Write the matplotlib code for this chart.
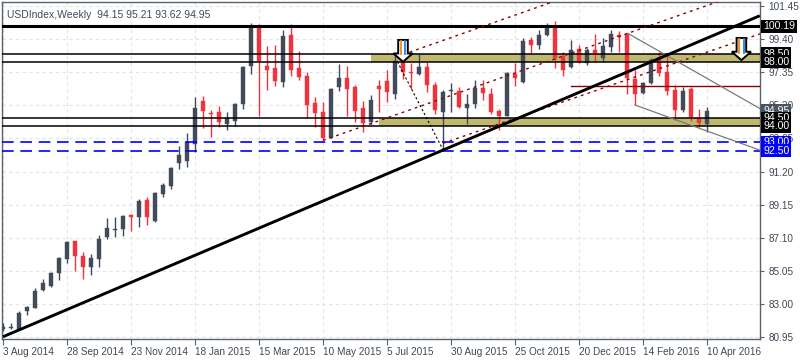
import matplotlib
matplotlib.use('Agg')
import matplotlib.pyplot as plt
from matplotlib.transforms import blended_transform_factory
from matplotlib.patches import Polygon, Rectangle

# ---------------- data ----------------
opens = [81.45, 81.50, 81.45, 82.57, 82.77, 83.88, 84.13, 84.94, 85.80, 86.90,
         85.95, 85.31, 85.80, 87.15, 87.60, 87.66, 88.53, 88.37, 89.44, 88.15,
         89.81, 90.32, 91.75, 91.87, 92.92, 95.57, 94.80, 94.89, 94.16, 94.35,
         95.36, 97.75, 100.19, 97.73, 97.61, 96.76, 99.65, 97.61, 97.12, 95.44,
         94.89, 93.30, 96.45, 96.99, 96.45, 95.12, 94.27, 96.52, 96.81, 96.02,
         98.00, 97.36, 97.24, 97.69, 96.56, 94.87, 96.17, 96.19, 95.12, 95.40,
         96.37, 96.00, 94.97, 94.66, 97.24, 96.76, 99.34, 99.04, 99.65, 100.15,
         98.35, 97.69, 98.79, 97.90, 98.75, 98.25, 98.91, 99.65, 99.73, 96.93,
         96.06, 96.68, 98.15, 97.36, 96.25, 95.01, 96.31, 94.53, 94.15]
highs = [81.84, 81.84, 82.57, 82.85, 83.99, 84.55, 84.98, 85.89, 86.92, 86.92,
         86.22, 86.09, 87.25, 88.32, 88.38, 88.53, 88.57, 89.48, 89.64, 89.93,
         90.47, 91.50, 92.78, 93.59, 95.83, 95.88, 95.01, 95.28, 94.87, 95.44,
         97.75, 100.40, 100.34, 98.99, 99.04, 99.98, 100.32, 98.66, 97.34, 95.80,
         95.49, 96.39, 97.86, 97.73, 96.58, 95.57, 95.94, 96.85, 97.49, 98.46,
         98.45, 97.94, 98.46, 98.00, 96.76, 96.23, 96.70, 96.45, 96.00, 96.87,
         96.87, 96.35, 95.09, 97.38, 97.90, 99.49, 99.53, 99.96, 100.38, 100.52,
         98.62, 99.34, 99.04, 98.83, 99.70, 99.45, 99.96, 99.90, 99.75, 97.49,
         96.76, 98.25, 98.62, 98.42, 96.56, 96.42, 96.45, 95.07, 95.21]
lows = [81.35, 81.43, 81.40, 82.32, 82.73, 83.82, 84.05, 84.46, 85.56, 85.02,
        84.57, 84.81, 85.27, 87.00, 87.17, 87.21, 87.54, 87.78, 87.91, 88.10,
        89.60, 90.10, 91.36, 91.50, 92.39, 93.91, 93.36, 93.98, 93.79, 94.04,
        95.05, 97.26, 94.66, 96.27, 96.50, 96.45, 97.12, 96.87, 94.50, 93.98,
        93.13, 93.26, 96.19, 94.66, 94.29, 93.67, 94.08, 94.91, 95.52, 95.70,
        96.93, 96.30, 97.15, 96.11, 94.74, 92.47, 94.91, 95.12, 94.16, 95.15,
        95.63, 94.74, 93.75, 94.62, 96.52, 96.70, 98.52, 98.79, 99.60, 97.59,
        97.12, 97.59, 97.90, 97.80, 98.06, 98.00, 98.62, 98.62, 96.00, 95.32,
        96.00, 96.62, 97.12, 95.94, 94.39, 94.91, 94.33, 93.94, 93.62]
closes = [81.55, 81.52, 82.44, 82.81, 83.80, 84.30, 84.92, 85.85, 86.84, 85.99,
          85.31, 85.85, 87.00, 87.70, 87.64, 88.45, 88.40, 89.39, 88.37, 89.89,
          90.37, 91.40, 92.22, 93.03, 95.12, 94.97, 94.76, 94.25, 94.50, 95.40,
          97.67, 100.19, 98.04, 97.51, 96.83, 99.59, 97.51, 97.07, 95.34, 94.84,
          93.26, 96.31, 96.99, 96.33, 94.97, 94.22, 95.63, 96.33, 96.14, 98.04,
          97.38, 97.32, 97.69, 96.56, 95.01, 96.14, 96.21, 95.18, 95.38, 96.37,
          96.08, 94.91, 94.66, 97.28, 97.01, 99.28, 99.04, 99.65, 100.07, 98.25,
          97.51, 98.73, 98.00, 98.73, 98.52, 98.95, 99.70, 99.53, 97.01, 96.00,
          96.66, 98.13, 97.32, 96.19, 95.01, 96.19, 94.56, 94.22, 94.95]

date_labels = ['3 Aug 2014', '28 Sep 2014', '23 Nov 2014', '18 Jan 2015',
               '15 Mar 2015', '10 May 2015', '5 Jul 2015', '30 Aug 2015',
               '25 Oct 2015', '20 Dec 2015', '14 Feb 2016', '10 Apr 2016']
price_ticks = [80.95, 83.00, 85.05, 87.10, 89.15, 91.20, 93.25, 95.30,
               97.35, 99.40, 101.45]

title_text = 'USDIndex,Weekly  94.15 95.21 93.62 94.95'
black_levels = [100.19, 98.50, 98.00, 94.50, 94.00]
black_widths = [2.2, 1.1, 1.1, 1.1, 1.1]
blue_levels = [93.00, 92.50]
last_price = 94.95

# zones: (start bar, low, high)
zone_start = [46, 47]
zone_low = [98.00, 94.00]
zone_high = [98.50, 94.50]

# long black trendline (bar, price) points
trend_x = [0, 94.6]
trend_y = [80.97, 100.85]

# maroon dotted channel lines: start bar, start price, slope per bar
chan_start = [40, 50, 55]
chan_price = [93.13, 98.45, 92.95]
chan_slope = [0.174, 0.174, 0.171]

# thin dashed projection line
proj_x = [49.3, 55.0]
proj_y = [98.0, 92.55]

# gray descending lines
gray_x0 = [78.1, 79.0]
gray_y0 = [99.76, 95.32]
gray_slope = [-0.282, -0.179]

# maroon horizontal line
red_level = 96.50
red_start = 71

# arrow objects: center bar, top price, tip price
arrow_x = [50.0, 92.3]
arrow_top = [99.35, 99.47]
arrow_tip = [98.0, 98.1]

# ---------------- drawing ----------------
plt.rcParams['font.family'] = ['Liberation Sans', 'DejaVu Sans']
fig = plt.figure(figsize=(8, 3.6), dpi=100)
ax = fig.add_axes([2 / 800, 21 / 360, 758 / 800, 337 / 360])
XMIN, XMAX = -0.125, 94.625
YMIN, YMAX = 80.83, 101.70
ax.set_xlim(XMIN, XMAX)
ax.set_ylim(YMIN, YMAX)

spine_col = '#59626c'
txt_col = '#3f4956'
for s in ax.spines.values():
    s.set_color(spine_col)
    s.set_linewidth(1.0)

# grid
ax.set_xticks(list(range(0, 89, 8)))
ax.set_xticklabels(date_labels, ha='left')
ax.set_yticks(price_ticks)
ax.set_yticklabels(['%.2f' % v for v in price_ticks])
ax.yaxis.tick_right()
ax.tick_params(axis='x', length=4, color=spine_col, labelsize=7.2, labelcolor=txt_col, pad=2)
ax.tick_params(axis='y', length=3, color=spine_col, labelsize=7.2, labelcolor=txt_col, pad=3)
ax.grid(True, color='#e3e3e3', linestyle=(0, (3, 3)), linewidth=0.8)
ax.set_axisbelow(True)

# zones
for s0, lo, hi in zip(zone_start, zone_low, zone_high):
    ax.add_patch(Rectangle((s0, lo), XMAX - s0, hi - lo, facecolor='#bfb86e',
                           edgecolor='none', zorder=1))

# candles
bull = '#414b5a'
bear = '#f2323d'
for i, (o, h, l, c) in enumerate(zip(opens, highs, lows, closes)):
    col = bull if c >= o else bear
    ax.vlines(i, l, h, color=col, linewidth=1.0, zorder=3)
    bot = min(o, c)
    ht = max(abs(c - o), 0.07)
    ax.bar(i, ht, bottom=bot, width=0.62, color=col, edgecolor=col,
           linewidth=0.3, zorder=4)

# horizontal black levels
for lv, lw in zip(black_levels, black_widths):
    ax.axhline(lv, color='black', linewidth=lw, zorder=6)
for lv in blue_levels:
    ax.axhline(lv, color='#0000ff', linewidth=1.2, linestyle=(0, (7, 4)), zorder=6)

# maroon horizontal
ax.plot([red_start, XMAX], [red_level, red_level], color='#8b0000', linewidth=1.0, zorder=6)

# maroon dotted channel lines
for s0, p0, sl in zip(chan_start, chan_price, chan_slope):
    ax.plot([s0, XMAX], [p0, p0 + sl * (XMAX - s0)], color='#8b0000',
            linewidth=1.0, linestyle=(0, (2, 3)), zorder=6)

# projection
ax.plot(proj_x, proj_y, color='black', linewidth=0.8, linestyle=(0, (2, 2)), zorder=6)

# gray lines
for x0, y0, sl in zip(gray_x0, gray_y0, gray_slope):
    ax.plot([x0, XMAX], [y0, y0 + sl * (XMAX - x0)], color='#7a7a7a',
            linewidth=0.9, zorder=6)

# trendline
ax.plot(trend_x, trend_y, color='black', linewidth=2.1, zorder=7, solid_capstyle='butt')

# arrows
for ax_c, top, tip in zip(arrow_x, arrow_top, arrow_tip):
    neck = tip + (top - tip) * 0.38
    sw, hw = 0.6, 1.2
    verts = [(ax_c - sw, top), (ax_c + sw, top), (ax_c + sw, neck), (ax_c + hw, neck),
             (ax_c, tip), (ax_c - hw, neck), (ax_c - sw, neck)]
    ax.add_patch(Polygon(verts, closed=True, facecolor='white', edgecolor='black',
                         linewidth=1.4, zorder=8))
    ax.plot([ax_c - sw * 0.5, ax_c - sw * 0.5], [top - 0.08, neck - 0.05],
            color='#f08a1c', linewidth=1.3, zorder=9)
    ax.plot([ax_c + sw * 0.5, ax_c + sw * 0.5], [top - 0.08, neck - 0.05],
            color='#2a7de1', linewidth=1.3, zorder=9)

# title
ax.text(5 / 758, 1 - 8 / 337, title_text, transform=ax.transAxes, ha='left', va='top',
        fontsize=7.5, color='#3d4a5c', zorder=10)

# right axis price labels
trans = blended_transform_factory(ax.transAxes, ax.transData)
xlab = 1 + 3 / 758
def price_box(val, fc):
    ax.text(xlab, val, '%.2f' % val, transform=trans, ha='left', va='center',
            fontsize=7.6, color='white', zorder=20, clip_on=False,
            bbox=dict(boxstyle='square,pad=0.15', facecolor=fc, edgecolor='none'))

price_box(last_price, '#4a5461')
for lv in black_levels:
    price_box(lv, 'black')
for lv in blue_levels:
    price_box(lv, '#0000ff')

fig.savefig('out.png', dpi=100, facecolor='white')
